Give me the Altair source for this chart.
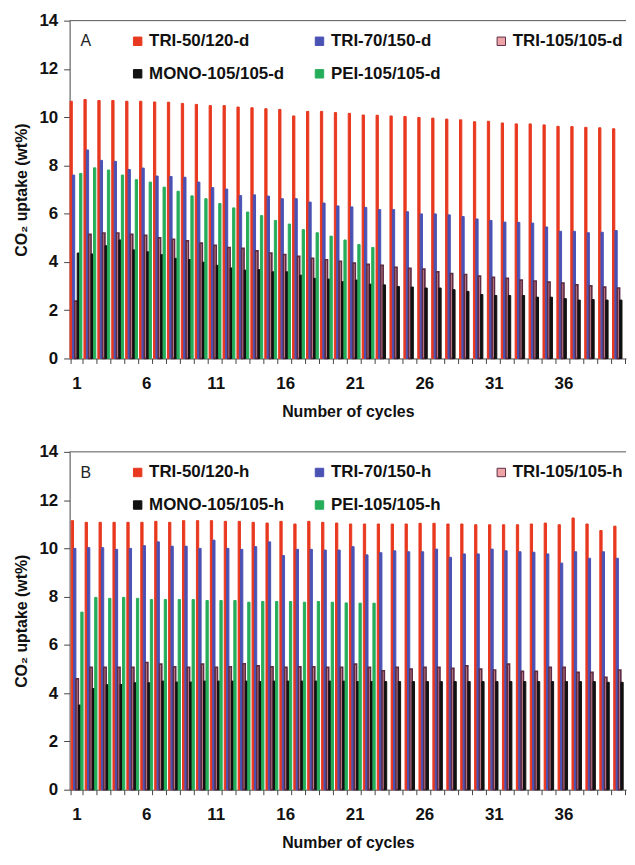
import altair as alt
import pandas as pd

cycles = list(range(1, 41))

# Panel A (-d)
series_a = ["TRI-50/120-d", "TRI-70/150-d", "TRI-105/105-d", "MONO-105/105-d", "PEI-105/105-d"]
red_a = [10.66, 10.73, 10.69, 10.69, 10.66, 10.66, 10.63, 10.62, 10.57, 10.53,
         10.48, 10.48, 10.42, 10.39, 10.35, 10.32, 10.05, 10.24, 10.24, 10.19,
         10.16, 10.09, 10.08, 10.05, 10.03, 9.99, 9.96, 9.92, 9.89, 9.81,
         9.83, 9.76, 9.72, 9.72, 9.68, 9.62, 9.61, 9.58, 9.56, 9.52]
blue_a = [7.60, 8.64, 8.21, 8.17, 7.83, 7.89, 7.56, 7.54, 7.51, 7.31,
          7.08, 7.02, 6.75, 6.78, 6.73, 6.62, 6.62, 6.48, 6.44, 6.32,
          6.28, 6.26, 6.17, 6.17, 6.08, 5.99, 5.99, 5.95, 5.88, 5.78,
          5.72, 5.65, 5.64, 5.61, 5.45, 5.27, 5.27, 5.21, 5.23, 5.30]
pink_a = [2.38, 5.14, 5.20, 5.20, 5.14, 5.10, 5.00, 4.94, 4.87, 4.78,
          4.69, 4.60, 4.56, 4.46, 4.37, 4.30, 4.23, 4.15, 4.09, 4.03,
          3.95, 3.90, 3.86, 3.78, 3.73, 3.70, 3.59, 3.52, 3.48, 3.41,
          3.36, 3.32, 3.25, 3.21, 3.16, 3.12, 3.05, 3.01, 2.96, 2.92]
black_a = [4.37, 4.33, 4.67, 4.91, 4.50, 4.42, 4.30, 4.15, 4.10, 3.99,
           3.86, 3.75, 3.66, 3.68, 3.59, 3.59, 3.45, 3.32, 3.29, 3.18,
           3.25, 3.08, 3.05, 2.98, 2.96, 2.92, 2.92, 2.85, 2.78, 2.65,
           2.61, 2.61, 2.61, 2.54, 2.54, 2.48, 2.42, 2.44, 2.42, 2.42]
green_a = [7.67, 7.90, 7.81, 7.60, 7.41, 7.31, 7.10, 6.93, 6.74, 6.62,
           6.42, 6.24, 6.07, 5.92, 5.72, 5.57, 5.34, 5.21, 5.07, 4.91,
           4.72, 4.60]

# Panel B (-h)
series_b = ["TRI-50/120-h", "TRI-70/150-h", "TRI-105/105-h", "MONO-105/105-h", "PEI-105/105-h"]
red_b = [11.15, 11.08, 11.08, 11.08, 11.08, 11.08, 11.12, 11.08, 11.15, 11.15,
         11.15, 11.12, 11.12, 11.08, 11.05, 11.12, 11.01, 11.12, 11.08, 11.05,
         11.01, 11.01, 11.01, 11.01, 11.01, 11.04, 11.04, 11.01, 11.01, 10.98,
         10.98, 10.98, 10.98, 11.01, 11.05, 10.98, 11.26, 11.01, 10.74, 10.92]
blue_b = [10.00, 10.03, 10.03, 9.96, 10.00, 10.11, 10.27, 10.09, 10.09, 10.00,
          10.34, 10.00, 9.96, 10.07, 10.27, 9.70, 9.96, 9.96, 9.93, 9.93,
          10.07, 9.73, 9.82, 9.90, 9.86, 9.86, 9.97, 9.63, 9.77, 9.77,
          9.97, 9.90, 9.86, 9.84, 9.77, 9.39, 9.86, 9.59, 9.86, 9.59]
pink_b = [4.59, 5.07, 5.07, 5.07, 5.07, 5.27, 5.20, 5.09, 5.07, 5.20,
          5.07, 5.09, 5.22, 5.13, 5.09, 5.07, 5.09, 5.09, 5.07, 5.07,
          5.20, 5.07, 4.93, 5.07, 5.00, 5.07, 5.07, 5.03, 5.13, 5.00,
          4.96, 5.20, 4.90, 4.90, 5.07, 5.07, 4.86, 4.86, 4.66, 4.96]
black_b = [3.51, 4.19, 4.35, 4.36, 4.43, 4.43, 4.50, 4.46, 4.46, 4.50,
           4.50, 4.50, 4.50, 4.48, 4.50, 4.50, 4.50, 4.50, 4.50, 4.50,
           4.48, 4.48, 4.48, 4.48, 4.48, 4.48, 4.48, 4.48, 4.48, 4.48,
           4.48, 4.48, 4.48, 4.48, 4.48, 4.48, 4.48, 4.48, 4.45, 4.45]
green_b = [7.36, 7.97, 7.93, 7.97, 7.93, 7.88, 7.88, 7.88, 7.88, 7.84,
           7.84, 7.84, 7.77, 7.80, 7.80, 7.80, 7.77, 7.80, 7.77, 7.74,
           7.73, 7.73]

fill_colors = ["#e8381f", "#4a52b4", "#eea3a6", "#111111", "#26ad5a"]
stroke_colors = ["#e8381f", "#4a52b4", "#5e2d45", "#111111", "#26ad5a"]

FONT = "Liberation Sans"
W = 560
H = 340


def long_frame(names, lists):
    rows = []
    for name, vals in zip(names, lists):
        for c, v in zip(cycles, vals):
            rows.append({"cycle": c, "series": name, "uptake": v})
    return pd.DataFrame(rows)


def legend_opts():
    return alt.Legend(title=None, orient="none", legendX=60, legendY=12,
                      direction="horizontal", columns=3, gridAlign="all",
                      columnPadding=26, rowPadding=15, symbolType="square",
                      symbolSize=72, symbolStrokeWidth=1, labelOffset=3,
                      labelFontSize=17, labelFontWeight="bold",
                      labelFont=FONT, labelColor="#111", padding=0)


def panel(names, lists, letter):
    df = long_frame(names, lists)
    bars = alt.Chart(df).mark_bar(width=2.3).encode(
        x=alt.X("cycle:O",
                scale=alt.Scale(paddingInner=0.14, paddingOuter=0.07),
                axis=alt.Axis(title="Number of cycles", labelAngle=0,
                              labelExpr="(datum.value - 1) % 5 == 0 ? datum.label : ''",
                              tickBand="extent", tickSize=5, labelPadding=12,
                              titlePadding=12)),
        xOffset=alt.XOffset("series:N", sort=names),
        y=alt.Y("uptake:Q", scale=alt.Scale(domain=[0, 14]),
                axis=alt.Axis(title="CO₂ uptake (wt%)", values=[0, 2, 4, 6, 8, 10, 12, 14],
                              tickSize=6, labelPadding=6, titlePadding=9, grid=False)),
        color=alt.Color("series:N", sort=names,
                        scale=alt.Scale(domain=names, range=fill_colors),
                        legend=legend_opts()),
        stroke=alt.Stroke("series:N", sort=names,
                          scale=alt.Scale(domain=names, range=stroke_colors),
                          legend=legend_opts()),
        strokeWidth=alt.condition(alt.datum.series == names[2], alt.value(1.7), alt.value(1)),
    )
    label = alt.Chart(pd.DataFrame({"panel": [letter]})).mark_text(
        align="left", baseline="middle", fontSize=16, font=FONT, color="#222"
    ).encode(text="panel:N", x=alt.value(11), y=alt.value(21))
    frame_top = alt.Chart(pd.DataFrame({"edge": [0]})).mark_rule(
        color="#555", strokeWidth=1
    ).encode(x=alt.value(0), x2=alt.value(W), y=alt.value(0))
    return alt.layer(bars, label, frame_top).properties(width=W, height=H)


top = panel(series_a, [red_a, blue_a, pink_a, black_a, green_a], "A")
bottom = panel(series_b, [red_b, blue_b, pink_b, black_b, green_b], "B")

chart = alt.vconcat(top, bottom, spacing=22).resolve_scale(
    color="independent", stroke="independent"
).resolve_legend(color="independent", stroke="independent").configure_view(
    stroke="transparent"
).configure_axis(
    labelFont=FONT, labelFontSize=17, labelFontWeight="bold", labelColor="#111",
    titleFont=FONT, titleFontSize=16, titleFontWeight="bold", titleColor="#111",
    domainColor="#444", tickColor="#444", domainWidth=1
).properties(padding={"left": 5, "top": 0, "right": 0, "bottom": 0})

chart.save("out.html", embed_options={"renderer": "svg", "actions": False})
